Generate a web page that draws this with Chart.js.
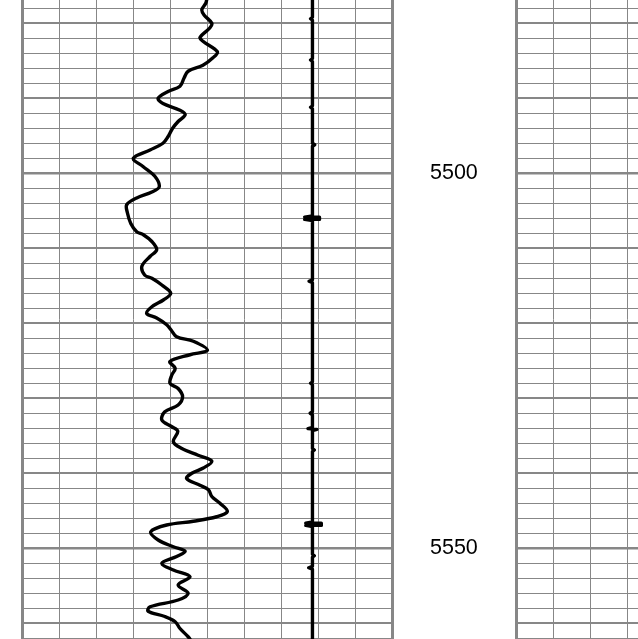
<!DOCTYPE html>
<html>
<head>
<meta charset="utf-8">
<script src="https://cdn.jsdelivr.net/npm/chart.js@4.4.1/dist/chart.umd.min.js"></script>
<style>
  html, body { margin: 0; padding: 0; background: #fff; }
  #wrap { position: relative; width: 638px; height: 639px; overflow: hidden; background: #fff; }
  #wrap canvas { position: absolute; left: 0; top: 0; }
</style>
</head>
<body>
<div id="wrap">
  <canvas id="logChart" width="638" height="639"></canvas>
  <canvas id="rightTrack" width="638" height="639"></canvas>
</div>
<script>
// depth window
const depthTop = 5476.9;
const depthBottom = 5562.1;
const depthLabels = [5500, 5550];

// wiggly curve, track units 0-10
const grDepth = [
  5476.6, 5477.3, 5478.2, 5478.9, 5480.0, 5480.6, 5481.9, 5482.4, 5483.8, 5484.6,
  5485.6, 5486.4, 5487.3, 5488.4, 5489.1, 5490.0, 5490.7, 5491.6, 5492.2, 5493.1,
  5494.0, 5495.1, 5496.0, 5496.9, 5498.0, 5499.1, 5500.4, 5501.8, 5502.5, 5503.3,
  5504.2, 5505.3, 5506.7, 5507.8, 5508.2, 5509.1, 5510.2, 5511.1, 5512.4, 5513.6,
  5514.0, 5514.9, 5516.0, 5516.9, 5517.8, 5518.7, 5519.3, 5520.2, 5520.9, 5521.8,
  5522.4, 5523.6, 5524.2, 5525.1, 5526.0, 5526.9, 5528.0, 5528.7, 5529.8, 5530.9,
  5531.8, 5532.9, 5533.8, 5534.4, 5535.8, 5536.7, 5537.6, 5538.4, 5539.3, 5540.0,
  5540.7, 5541.6, 5542.2, 5543.1, 5544.0, 5545.1, 5545.8, 5546.4, 5546.9, 5547.8,
  5548.9, 5549.8, 5550.4, 5551.1, 5552.0, 5552.9, 5553.8, 5554.9, 5556.0, 5556.9,
  5557.8, 5558.4, 5559.1, 5559.8, 5560.7, 5561.8, 5562.4
];
const grValue = [
  5.00, 4.97, 4.86, 4.92, 5.13, 5.08, 4.81, 4.89, 5.28, 5.16,
  4.89, 4.49, 4.38, 4.27, 3.95, 3.68, 3.81, 4.27, 4.41, 4.22,
  4.07, 3.95, 3.81, 3.46, 3.01, 3.27, 3.59, 3.71, 3.51, 3.10,
  2.83, 2.85, 2.94, 3.10, 3.28, 3.51, 3.64, 3.46, 3.24, 3.32,
  3.51, 3.78, 4.02, 3.82, 3.51, 3.37, 3.64, 3.91, 4.03, 4.18,
  4.63, 5.01, 4.54, 4.00, 4.14, 4.05, 4.00, 4.22, 4.34, 4.22,
  3.86, 3.78, 4.05, 4.21, 4.09, 4.32, 4.76, 5.13, 4.90, 4.59,
  4.45, 4.81, 5.04, 5.13, 5.35, 5.55, 5.26, 4.63, 3.91, 3.48,
  3.68, 4.09, 4.41, 4.18, 3.78, 4.09, 4.54, 4.22, 4.49, 4.22,
  3.46, 3.41, 3.86, 4.14, 4.27, 4.49, 4.58
];

// near-constant curve with small blips
const calDepth = [
  5476.5, 5479.2, 5479.4, 5479.6, 5484.7, 5484.9, 5485.1, 5491.0, 5491.2, 5491.4,
  5496.0, 5496.2, 5496.4,
  5505.7, 5505.85, 5505.85, 5506.15, 5506.15, 5506.3,
  5514.2, 5514.4, 5514.6,
  5527.8, 5528.0, 5528.2, 5531.8, 5532.0, 5532.2, 5533.9, 5534.05, 5534.15, 5534.3,
  5536.7, 5536.9, 5537.1,
  5546.5, 5546.65, 5546.65, 5546.95, 5546.95, 5547.1,
  5550.8, 5551.0, 5551.2, 5552.4, 5552.6, 5552.8, 5562.5
];
const calValue = [
  7.85, 7.85, 7.80, 7.85, 7.85, 7.80, 7.85, 7.85, 7.80, 7.85,
  7.85, 7.91, 7.85,
  7.85, 7.64, 8.04, 8.04, 7.64, 7.85,
  7.85, 7.76, 7.85,
  7.85, 7.80, 7.85, 7.85, 7.79, 7.85, 7.85, 7.73, 7.97, 7.85,
  7.85, 7.90, 7.85,
  7.85, 7.67, 8.09, 8.09, 7.67, 7.85,
  7.85, 7.90, 7.85, 7.85, 7.75, 7.85, 7.85
];

const gridColor = '#878787';

function depthLineWidth(c) {
  const v = Math.round(c.tick ? c.tick.value : 0);
  if (v % 50 === 0) return 2.5;
  if (v % 10 === 0) return 2;
  return 1;
}

function depthScale(extra) {
  return Object.assign({
    type: 'linear',
    reverse: true,
    min: depthTop,
    max: depthBottom,
    grid: { color: gridColor, lineWidth: depthLineWidth, drawTicks: false },
    border: { display: false }
  }, extra);
}

// left track + depth labels
new Chart(document.getElementById('logChart'), {
  type: 'line',
  data: {
    datasets: [
      {
        data: grDepth.map((d, i) => ({ x: grValue[i], y: d })),
        borderColor: '#000',
        borderWidth: 3.4,
        pointRadius: 0,
        tension: 0.35,
        borderJoinStyle: 'round',
        borderCapStyle: 'round'
      },
      {
        data: calDepth.map((d, i) => ({ x: calValue[i], y: d })),
        borderColor: '#000',
        borderWidth: 3.4,
        pointRadius: 0,
        tension: 0,
        borderJoinStyle: 'round'
      }
    ]
  },
  options: {
    responsive: false,
    animation: false,
    indexAxis: 'y',
    layout: { padding: { left: 22, right: 122, top: 0, bottom: 0 } },
    plugins: { legend: { display: false }, tooltip: { enabled: false } },
    scales: {
      x: {
        type: 'linear',
        min: 0,
        max: 10,
        ticks: { display: false, stepSize: 1 },
        grid: {
          color: gridColor,
          drawTicks: false,
          lineWidth: c => (c.tick && (c.tick.value === 0 || c.tick.value === 10)) ? 3 : 1
        },
        border: { display: false }
      },
      y: depthScale({
        position: 'right',
        ticks: {
          stepSize: 2,
          includeBounds: false,
          autoSkip: false,
          crossAlign: 'center',
          padding: 38,
          color: '#000',
          font: { family: "'Liberation Sans', Arial, sans-serif", size: 21.5 },
          callback: v => depthLabels.includes(Math.round(v)) ? String(Math.round(v)) : ''
        },
        afterFit: s => { s.width = 124; s.paddingTop = 0; s.paddingBottom = 0; }
      })
    }
  }
});

// right track (grid only)
new Chart(document.getElementById('rightTrack'), {
  type: 'line',
  data: { datasets: [] },
  options: {
    responsive: false,
    animation: false,
    layout: { padding: { left: 516, right: 0, top: 0, bottom: 0 } },
    plugins: { legend: { display: false }, tooltip: { enabled: false } },
    scales: {
      x: {
        type: 'linear',
        min: 0,
        max: 3.27,
        ticks: { display: false, stepSize: 1, includeBounds: false },
        grid: {
          color: gridColor,
          drawTicks: false,
          lineWidth: c => (c.tick && c.tick.value === 0) ? 3 : 1
        },
        border: { display: false }
      },
      y: depthScale({
        position: 'left',
        ticks: { display: false, stepSize: 2, includeBounds: false, autoSkip: false }
      })
    }
  }
});
</script>
</body>
</html>
